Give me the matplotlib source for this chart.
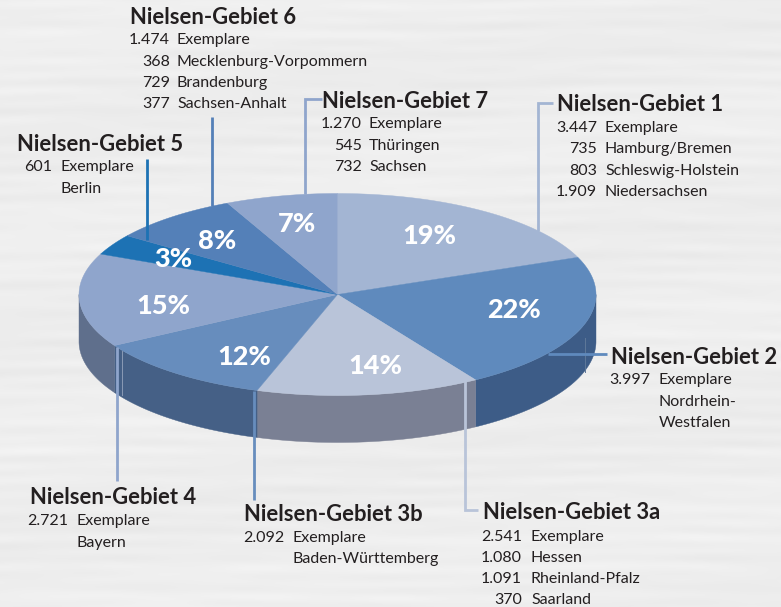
import numpy as np
import matplotlib
matplotlib.use("Agg")
import matplotlib.pyplot as plt
from matplotlib.patches import Polygon

# ---- data ----
regions = ["Nielsen-Gebiet 1", "Nielsen-Gebiet 2", "Nielsen-Gebiet 3a", "Nielsen-Gebiet 3b",
           "Nielsen-Gebiet 4", "Nielsen-Gebiet 5", "Nielsen-Gebiet 6", "Nielsen-Gebiet 7"]
copies = [3447, 3997, 2541, 2092, 2721, 601, 1474, 1270]
percent_labels = ["19%", "22%", "14%", "12%", "15%", "3%", "8%", "7%"]
rows_1 = [("3.447", "Exemplare"), ("735", "Hamburg/Bremen"), ("803", "Schleswig-Holstein"), ("1.909", "Niedersachsen")]
rows_2 = [("3.997", "Exemplare"), ("", "Nordrhein-"), ("", "Westfalen")]
rows_3a = [("2.541", "Exemplare"), ("1.080", "Hessen"), ("1.091", "Rheinland-Pfalz"), ("370", "Saarland")]
rows_3b = [("2.092", "Exemplare"), ("", "Baden-Württemberg")]
rows_4 = [("2.721", "Exemplare"), ("", "Bayern")]
rows_5 = [("601", "Exemplare"), ("", "Berlin")]
rows_6 = [("1.474", "Exemplare"), ("368", "Mecklenburg-Vorpommern"), ("729", "Brandenburg"), ("377", "Sachsen-Anhalt")]
rows_7 = [("1.270", "Exemplare"), ("545", "Thüringen"), ("732", "Sachsen")]
all_rows = [rows_1, rows_2, rows_3a, rows_3b, rows_4, rows_5, rows_6, rows_7]

# ---- styles ----
top_colors = ["#a3b5d3", "#5f8abd", "#b9c4d9", "#678dbd", "#8fa5cc", "#1d72b4", "#5480b8", "#8fa5cc"]
side_colors = ["#5f6f8c", "#3d5c87", "#7a8094", "#456086", "#5f6f8c", "#1d5a8c", "#3d5c87", "#5f6f8c"]
line_colors = ["#a3b5d3", "#5f8abd", "#b9c4d9", "#678dbd", "#8fa5cc", "#1d72b4", "#5480b8", "#8fa5cc"]

CX, CY, RX, RY, DEPTH = 337.5, 294.5, 258.5, 101.0, 47.0
FONT = "Lato"

fig = plt.figure(figsize=(7.81, 6.07), dpi=100)
ax = fig.add_axes([0, 0, 1, 1])
ax.axis("off")

# paper-like background: soft, broken horizontal streaks
yy, xx = np.mgrid[0:607, 0:781]
env_a = 0.5 + 0.5 * np.sin(xx / 37.0 + yy / 23.0) * np.sin(xx / 61.0 - yy / 41.0)
env_b = 0.5 + 0.5 * np.sin(xx / 53.0 - yy / 17.0 + 2.0) * np.sin(xx / 29.0 + yy / 67.0)
tex = (237
       + 2.5 * env_a * np.sin(yy / 2.3 + 0.9 * np.sin(xx / 83.0))
       + 2.5 * env_b * np.sin(yy / 4.7 + 0.7 * np.sin(xx / 47.0 + 1.0))
       + 1.5 * np.sin(yy / 31.0 + xx / 190.0))
ax.imshow(tex, cmap="gray", vmin=0, vmax=255, extent=(0, 781, 607, 0), aspect="auto", zorder=0)
ax.set_xlim(0, 781)
ax.set_ylim(607, 0)


def rim(t, dy=0.0):
    return np.column_stack([CX + RX * np.sin(t), CY + dy - RY * np.cos(t)])


fractions = np.array(copies, dtype=float) / sum(copies)
edges = np.concatenate([[0.0], np.cumsum(fractions)]) * 2 * np.pi

# sides (front half only)
for i in range(len(copies)):
    a, b = max(edges[i], np.pi / 2), min(edges[i + 1], 3 * np.pi / 2)
    if b <= a:
        continue
    t = np.linspace(a, b, 100)
    pts = np.vstack([rim(t), rim(t[::-1], DEPTH)])
    ax.add_patch(Polygon(pts, closed=True, fc=side_colors[i], ec=side_colors[i], lw=0.3, zorder=2))

# faint vertical highlights on the side wall
ax.plot([584.5, 584.5], [338, 372], color="#5f7899", lw=0.7, zorder=2.5)
ax.plot([122, 122], [351, 395], color="#8a9ab5", lw=0.7, zorder=2.5)

# top faces
for i in range(len(copies)):
    t = np.linspace(edges[i], edges[i + 1], 200)
    pts = np.vstack([[CX, CY], rim(t)])
    ax.add_patch(Polygon(pts, closed=True, fc=top_colors[i], ec=top_colors[i], lw=0.3, zorder=3))

# leader lines
leaders = [
    [(553, 103), (538, 103), (538, 231)],
    [(607, 354), (548, 354)],
    [(478, 510), (464.5, 510), (464.5, 381)],
    [(253.5, 391), (253.5, 500)],
    [(117, 347), (117, 481)],
    [(146.5, 159), (146.5, 240)],
    [(212, 117), (212, 206)],
    [(322, 99), (304.5, 99), (304.5, 194)],
]
for path, c in zip(leaders, line_colors):
    xs, ys = zip(*path)
    ax.plot(xs, ys, color=c, lw=2.0, solid_capstyle="butt", solid_joinstyle="miter", zorder=4)

# percent labels
pct_pos = [(429, 236), (514, 310), (375, 366), (244, 357), (163, 306), (173, 259), (217, 241), (297, 224)]
for s, (x, y) in zip(percent_labels, pct_pos):
    ax.text(x, y, s, color="white", fontsize=19.5, fontweight=900, family=FONT,
            ha="center", va="center", zorder=5)

# annotation blocks: title x, title baseline, number right edge, name x, row baselines
blocks = [
    (557, 111, 597, 605, [132, 153, 175, 196]),
    (611, 364, 650, 659, [384, 406, 427]),
    (483, 519, 522, 531, [541, 562, 583, 604]),
    (244, 521, 284, 292, [542, 563]),
    (30, 504, 68, 77, [525, 547]),
    (17, 151, 52, 61, [171, 193]),
    (130, 24, 170, 177, [44, 66, 87, 108]),
    (322, 108, 362, 369, [128, 150, 171]),
]
TXT = "#231f20"
for name, rows, (tx, ty, nx, lx, ys) in zip(regions, all_rows, blocks):
    ax.text(tx, ty, name, color=TXT, fontsize=15.8, fontweight="bold", family=FONT,
            ha="left", va="baseline", zorder=6)
    for (num, lab), y in zip(rows, ys):
        if num:
            ax.text(nx, y, num, color=TXT, fontsize=11.5, family=FONT, ha="right", va="baseline", zorder=6)
        ax.text(lx, y, lab, color=TXT, fontsize=11.5, family=FONT, ha="left", va="baseline", zorder=6)

fig.savefig("out.png", dpi=100)
